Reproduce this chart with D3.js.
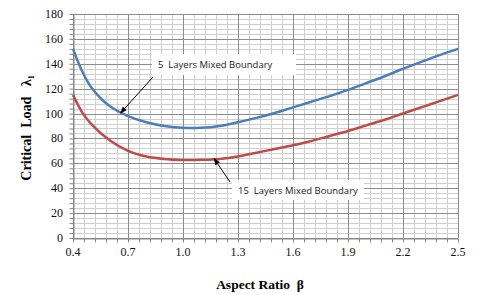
<!DOCTYPE html>
<html>
<head>
<meta charset="utf-8">
<script src="https://cdn.jsdelivr.net/npm/d3@7"></script>
<style>
  body { margin: 0; background: #fff; }
  svg { display: block; }
</style>
</head>
<body>
<svg id="chart" width="501" height="295"></svg>
<script>
// values
var beta = [0.4, 0.45, 0.5, 0.6, 0.7, 0.8, 0.9, 1.0, 1.1, 1.2, 1.3, 1.4, 1.5, 1.6, 1.7, 1.8, 1.9, 2.0, 2.1, 2.2, 2.3, 2.4, 2.5];
var load5 = [152, 134, 121, 106, 98, 93, 90, 88.5, 88.5, 90, 93, 96.5, 100.5, 105, 109.5, 114, 119, 124.5, 130, 136, 141.5, 147, 152];
var load15 = [115, 101, 91.5, 78.5, 70, 65.5, 63.5, 62.7, 62.8, 63.5, 65.5, 68.5, 71.5, 74.5, 78, 82, 86, 90.5, 95, 100, 105, 110, 115];
var xTicks = [0.4, 0.7, 1.0, 1.3, 1.6, 1.9, 2.2, 2.5];
var yTicks = [0, 20, 40, 60, 80, 100, 120, 140, 160, 180];

var svg = d3.select("#chart");
var plotL = 73, plotR = 458, plotT = 14, plotB = 238;

var x = d3.scaleLinear().domain([0.4, 2.5]).range([plotL, plotR]);
var y = d3.scaleLinear().domain([0, 180]).range([plotB, plotT]);

var minorX = d3.range(0, 36).map(function(i) { return 0.4 + i * 0.06; });
var minorY = d3.range(0, 46).map(function(i) { return i * 4; });

var px = function(v) { return Math.round(x(v)) + 0.5; };
var py = function(v) { return Math.round(y(v)) + 0.5; };

var grid = svg.append("g");
var drawV = function(data, colour) {
    grid.append("g").selectAll("line")
        .data(data)
      .enter()
        .append("line")
        .attr("x1", px).attr("x2", px)
        .attr("y1", plotT).attr("y2", plotB)
        .attr("stroke", colour);
};
var drawH = function(data, colour) {
    grid.append("g").selectAll("line")
        .data(data)
      .enter()
        .append("line")
        .attr("y1", py).attr("y2", py)
        .attr("x1", plotL).attr("x2", plotR)
        .attr("stroke", colour);
};
drawV(minorX, "#cfcfcf");
drawH(minorY, "#cfcfcf");
drawV(xTicks, "#8c8c8c");
drawH(yTicks, "#8c8c8c");

// axes
var xAxis = svg.append("g")
    .attr("transform", "translate(0," + py(0) + ")")
    .call(d3.axisBottom(x).tickValues(minorX).tickSize(4).tickSizeOuter(0).tickFormat(""));
var yAxis = svg.append("g")
    .attr("transform", "translate(" + px(0.4) + ",0)")
    .call(d3.axisLeft(y).tickValues(minorY).tickSize(4).tickSizeOuter(0).tickFormat(""));
[xAxis, yAxis].forEach(function(a) {
    a.selectAll("path").attr("stroke", "#868686");
    a.selectAll("line").attr("stroke", "#868686");
});

svg.selectAll(".xlab")
    .data(xTicks)
  .enter()
    .append("text")
    .attr("x", function(d) { return x(d); })
    .attr("y", 256)
    .attr("text-anchor", "middle")
    .attr("font-family", "Liberation Serif")
    .attr("font-size", 12)
    .attr("fill", "#111")
    .text(function(d) { return d.toFixed(1); });
svg.selectAll(".ylab")
    .data(yTicks)
  .enter()
    .append("text")
    .attr("x", 63)
    .attr("y", function(d) { return y(d) + 4; })
    .attr("text-anchor", "end")
    .attr("font-family", "Liberation Serif")
    .attr("font-size", 12)
    .attr("fill", "#111")
    .text(function(d) { return d; });

// curves
var line = d3.line()
    .x(function(d) { return x(d[0]); })
    .y(function(d) { return y(d[1]); })
    .curve(d3.curveCatmullRom.alpha(0.5));
svg.append("path")
    .attr("d", line(d3.zip(beta, load5)))
    .attr("fill", "none").attr("stroke", "#4a7ebb").attr("stroke-width", 2.5);
svg.append("path")
    .attr("d", line(d3.zip(beta, load15)))
    .attr("fill", "none").attr("stroke", "#be4b48").attr("stroke-width", 2.5);

// callouts
svg.append("defs").append("marker")
    .attr("id", "arrow")
    .attr("viewBox", "0 0 10 10")
    .attr("refX", 9).attr("refY", 5)
    .attr("markerWidth", 7).attr("markerHeight", 7)
    .attr("markerUnits", "userSpaceOnUse")
    .attr("orient", "auto")
    .append("path").attr("d", "M0,1 L10,5 L0,9 z").attr("fill", "#000");

var callouts = [
    { text: "5  Layers Mixed Boundary", bx: 152, by: 54, bw: 144, bh: 21, from: [153, 77], to: [x(0.66), y(100.5)] },
    { text: "15  Layers Mixed Boundary", bx: 232, by: 180, bw: 132, bh: 20, from: [230, 182], to: [x(1.17), y(63.8)] }
];
callouts.forEach(function(c) {
    svg.append("rect")
        .attr("x", c.bx).attr("y", c.by).attr("width", c.bw).attr("height", c.bh)
        .attr("fill", "#fff");
    svg.append("text")
        .attr("x", c.bx + 6).attr("y", c.by + c.bh / 2 + 3.5)
        .attr("font-family", "Open Sans")
        .attr("font-size", 9.5)
        .attr("fill", "#222")
        .style("white-space", "pre")
        .text(c.text);
    svg.append("line")
        .attr("x1", c.from[0]).attr("y1", c.from[1])
        .attr("x2", c.to[0]).attr("y2", c.to[1])
        .attr("stroke", "#000").attr("stroke-width", 1)
        .attr("marker-end", "url(#arrow)");
});

// axis titles
svg.append("text")
    .attr("x", 260).attr("y", 289)
    .attr("text-anchor", "middle")
    .attr("font-family", "Liberation Serif")
    .attr("font-weight", "bold")
    .attr("font-size", 13.5)
    .style("white-space", "pre")
    .text("Aspect Ratio  \u03b2");
var yt = svg.append("text")
    .attr("transform", "translate(31,128) rotate(-90)")
    .attr("text-anchor", "middle")
    .attr("font-family", "Liberation Serif")
    .attr("font-weight", "bold")
    .attr("font-size", 14)
    .style("white-space", "pre");
yt.append("tspan").text("Critical  Load   \u03bb");
yt.append("tspan").attr("font-size", 8).attr("dy", 3).text("1");
</script>
</body>
</html>
